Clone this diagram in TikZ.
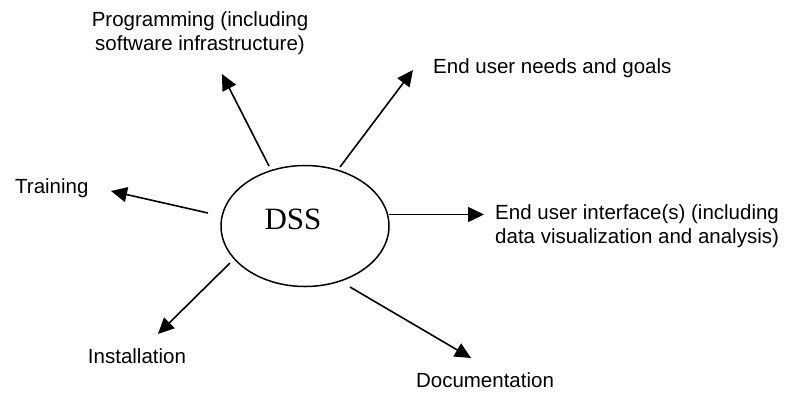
\documentclass[tikz,border=0pt]{standalone}
\usepackage{fontspec}
\setmainfont{Liberation Sans}
\newfontfamily\dssfont{Liberation Serif}
\usetikzlibrary{arrows.meta,shapes.geometric}
\tikzset{
  lbl/.style={inner sep=0pt, font=\fontsize{20.5}{23.5}\selectfont},
  arr/.style={line width=1.6pt, -{Triangle[length=16pt,width=15pt]}},
}
\begin{document}
\begin{tikzpicture}[x=1pt,y=-1pt]
\useasboundingbox (0,0) rectangle (792,392);
\node[ellipse, draw, line width=1.5pt, minimum width=168pt, minimum height=121pt, inner sep=0pt] (dss) at (305,226) {};
\node[inner sep=0pt, font=\dssfont\fontsize{31}{33}\selectfont] (dsslabel) at (293,219) {DSS};

\node[lbl, align=center] (prog) at (200,33) {Programming (including\\software infrastructure)};
\node[lbl, anchor=west] (needs) at (433,68) {End user needs and goals};
\node[lbl, anchor=west, align=left] (ui) at (495,226) {End user interface(s) (including\\data visualization and analysis)};
\node[lbl, anchor=west] (train) at (15,188) {Training};
\node[lbl] (inst) at (137,356) {Installation};
\node[lbl] (doc) at (485,380) {Documentation};

\coordinate (p1) at (269,166); \coordinate (p2) at (222,74);
\coordinate (n1) at (340,167); \coordinate (n2) at (413,70);
\coordinate (u1) at (389,214.5); \coordinate (u2) at (484,214.5);
\coordinate (t1) at (208,213); \coordinate (t2) at (111,191);
\coordinate (i1) at (230,263); \coordinate (i2) at (158,334);
\coordinate (d1) at (350,287); \coordinate (d2) at (471,358);

\draw[arr] (p1) -- (p2);
\draw[arr] (n1) -- (n2);
\draw[arr] (u1) -- (u2);
\draw[arr] (t1) -- (t2);
\draw[arr] (i1) -- (i2);
\draw[arr] (d1) -- (d2);
\end{tikzpicture}
\end{document}
